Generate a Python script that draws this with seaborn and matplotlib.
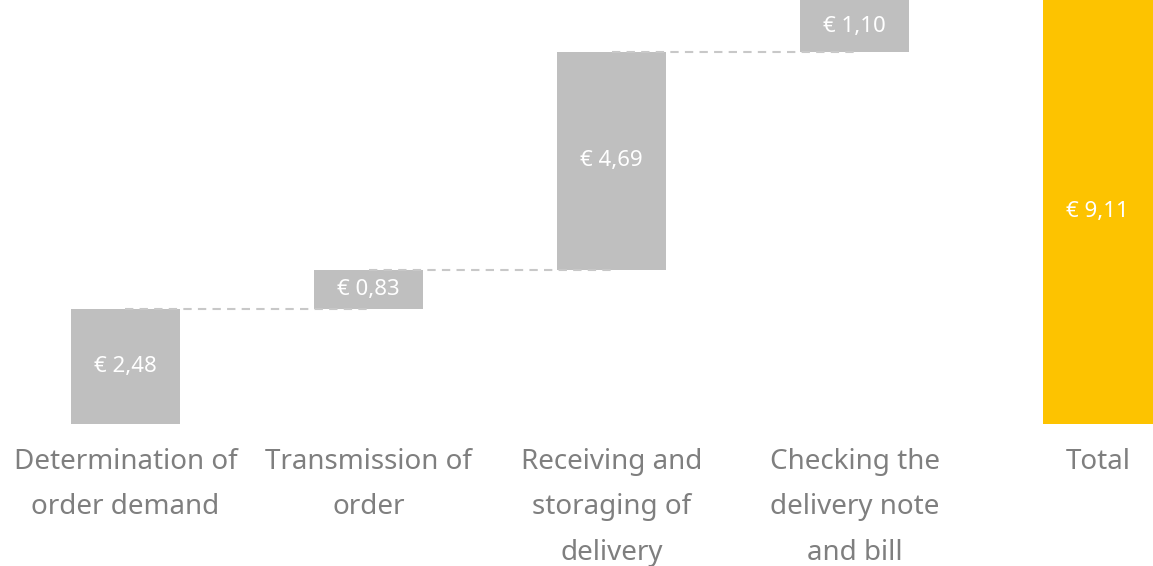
import numpy as np
import pandas as pd
import matplotlib
matplotlib.use("Agg")
import matplotlib.pyplot as plt
import seaborn as sns

# --- data ---
steps = ["Determination of\norder demand", "Transmission of\norder",
         "Receiving and\nstoraging of\ndelivery", "Checking the\ndelivery note\nand bill", "Total"]
costs = [2.48, 0.83, 4.69, 1.10]
total = 9.11
value_labels = ["€ 2,48", "€ 0,83", "€ 4,69", "€ 1,10", "€ 9,11"]

GREY = "#bfbfbf"
YELLOW = "#fdc300"
TEXT = "#7f7f7f"

sns.set_style("white")
plt.rcParams["font.family"] = ["Noto Sans", "DejaVu Sans"]

# waterfall bottoms / heights
bottoms = list(np.concatenate([[0], np.cumsum(costs)[:-1]])) + [0]
heights = costs + [total]
df = pd.DataFrame({"step": steps, "height": heights})

fig = plt.figure(figsize=(11.53, 5.66), dpi=100)
ax = fig.add_axes([0, 1 - 424 / 566, 1, 424 / 566])

sns.barplot(data=df, x="step", y="height", color=GREY, width=0.45,
            ax=ax, saturation=1, linewidth=0)

# shift the bars up so they float (waterfall)
for patch, b in zip(ax.patches, bottoms):
    patch.set_y(b)
ax.patches[-1].set_facecolor(YELLOW)

# connector lines between consecutive bars (center to center)
tops = np.cumsum(costs)
for i in range(len(costs) - 1):
    ax.plot([i, i + 1], [tops[i], tops[i]], ls=(0, (4, 3)), color="#c8c8c8",
            lw=1.5, zorder=3)

# value labels inside bars
for i, (b, h, lab) in enumerate(zip(bottoms, heights, value_labels)):
    ax.text(i, b + h / 2, lab, ha="center", va="center", color="white", fontsize=16)

ax.set_xlim(-0.516, 4.227)
ax.set_ylim(0, 9.11)
ax.set_yticks([])
ax.set_xlabel("")
ax.set_ylabel("")
ax.tick_params(axis="x", length=0, pad=17, labelsize=20, labelcolor=TEXT)
for lab in ax.get_xticklabels():
    lab.set_linespacing(1.85)
sns.despine(ax=ax, left=True, bottom=True)

fig.savefig("out.png", dpi=100, facecolor="white")
